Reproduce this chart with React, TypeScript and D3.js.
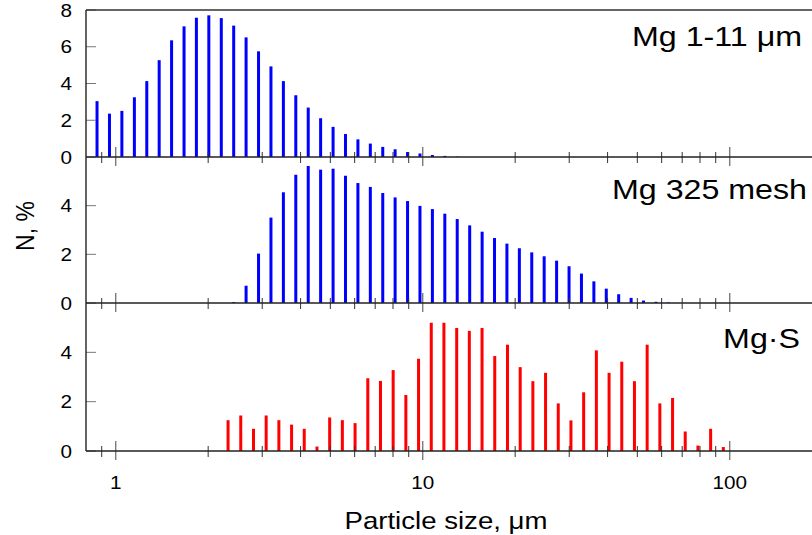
import React from "react";
import * as d3 from "d3";

const sizesTop = [0.869,0.954,1.047,1.150,1.262,1.385,1.520,1.669,1.831,2.010,2.207,2.422,2.658,2.918,3.203,3.516,3.859,4.236,4.649,5.104,5.602,6.149,6.749,7.408,8.128,8.923,9.793,10.75,11.80,12.95];
const valuesTop = [3.04,2.36,2.51,3.25,4.13,5.27,6.35,7.11,7.58,7.71,7.56,7.15,6.51,5.75,4.93,4.13,3.36,2.69,2.11,1.64,1.25,0.96,0.73,0.55,0.42,0.27,0.19,0.11,0.06,0.02];

const sizesMid = [2.422,2.658,2.918,3.203,3.516,3.859,4.236,4.649,5.104,5.602,6.149,6.749,7.408,8.128,8.923,9.793,10.75,11.80,12.95,14.22,15.61,17.13,18.80,20.64,22.65,24.86,27.29,29.96,32.88,36.09,39.61,43.47,47.72,52.37,57.49,63.10];
const valuesMid = [0.04,0.71,2.03,3.51,4.55,5.27,5.63,5.48,5.52,5.23,4.93,4.77,4.52,4.34,4.19,3.99,3.86,3.67,3.45,3.19,2.93,2.67,2.44,2.25,2.08,1.92,1.74,1.51,1.21,0.89,0.59,0.36,0.21,0.10,0.05,0.02];

const sizesS = [2.322,2.554,2.810,3.090,3.399,3.739,4.111,4.523,4.975,5.472,6.019,6.622,7.283,8.010,8.810,9.690,10.66,11.72,12.90,14.18,15.60,17.16,18.88,20.77,22.84,25.12,27.63,30.39,33.43,36.77,40.45,44.49,48.93,53.82,59.20,65.12,71.61,78.77,86.64,95.30];
const valuesS = [1.25,1.44,0.90,1.44,1.25,1.07,0.90,0.18,1.36,1.25,1.13,2.95,2.84,3.28,2.27,3.74,5.20,5.20,4.99,4.87,4.99,3.85,4.31,3.40,2.83,3.17,1.93,1.24,2.38,4.08,3.17,3.62,2.83,4.31,1.93,2.15,0.79,0.22,0.90,0.16];

const xMajorTicks = [1, 10, 100];
const xTickLabels = ["1", "10", "100"];
const xMinorTicks = [0.9, 2, 3, 4, 5, 6, 7, 8, 9, 20, 30, 40, 50, 60, 70, 80, 90];
const yTicksTop = [0, 2, 4, 6, 8];
const yTicksOther = [0, 2, 4];
const panelLabels = ["Mg 1-11 \u03bcm", "Mg 325 mesh", "Mg\u00b7S"];

const W = 812, H = 535;
const FONT = "'Liberation Sans', Arial, Helvetica, sans-serif";
const SX = 1.15;
const LEFT = 86;

export default function App() {
  const x = d3.scaleLog().domain([0.8, 200]).range([LEFT, LEFT + 307 * Math.log10(250)]);
  const panels = [
    { sizes: sizesTop, values: valuesTop, y: d3.scaleLinear().domain([0, 8]).range([157, 10]), ticks: yTicksTop, color: "#0000ff", label: panelLabels[0], ly: 46, lx: 802 },
    { sizes: sizesMid, values: valuesMid, y: d3.scaleLinear().domain([0, 6]).range([303, 157]), ticks: yTicksOther, color: "#0000ff", label: panelLabels[1], ly: 199, lx: 807 },
    { sizes: sizesS, values: valuesS, y: d3.scaleLinear().domain([0, 6]).range([451, 303]), ticks: yTicksOther, color: "#ff0000", label: panelLabels[2], ly: 348, lx: 800 },
  ];
  const barW = 3;
  const txt = (xx: number, yy: number, s: string, size: number, anchor: string, key?: string | number) => (
    <text key={key} transform={`translate(${xx},${yy}) scale(${SX},1)`} fontSize={size} textAnchor={anchor} fontFamily={FONT} fill="#000">{s}</text>
  );
  return (
    <svg width={W} height={H} style={{ position: "absolute", left: 0, top: 0, background: "#fff" }}>
      <rect x={0} y={0} width={W} height={H} fill="#fff" />
      {panels.map((p, pi) => {
        const y0 = p.y(0);
        return (
          <g key={pi}>
            {p.sizes.map((s, i) => (
              <rect key={i} x={x(s) - barW / 2} width={barW} y={p.y(p.values[i])} height={y0 - p.y(p.values[i])} fill={p.color} />
            ))}
            {p.ticks.map((t) => (
              <line key={"yt" + t} x1={LEFT} x2={LEFT + 10} y1={p.y(t)} y2={p.y(t)} stroke="#777" strokeWidth={1} />
            ))}
            {p.ticks.map((t) => txt(72, p.y(t) + 6.5, String(t), 18, "end", "yl" + t))}
            {xMinorTicks.map((t) => (
              <line key={"xm" + t} x1={x(t)} x2={x(t)} y1={y0 - 5} y2={y0 + 6} stroke="#333" strokeWidth={1} />
            ))}
            {xMajorTicks.map((t) => (
              <line key={"xM" + t} x1={x(t)} x2={x(t)} y1={y0 - 10} y2={y0 + 9} stroke="#666" strokeWidth={1.2} />
            ))}
            <line x1={LEFT} x2={W} y1={y0} y2={y0} stroke="#222" strokeWidth={1.6} />
            {txt(p.lx, p.ly, p.label, 28, "end")}
          </g>
        );
      })}
      <line x1={LEFT} x2={W} y1={10} y2={10} stroke="#333" strokeWidth={1.4} />
      <line x1={LEFT} x2={LEFT} y1={10} y2={451} stroke="#222" strokeWidth={1.4} />
      {xMajorTicks.map((t, i) => txt(x(t), 489, xTickLabels[i], 18, "middle", "xl" + t))}
      {txt(446, 529, "Particle size, \u03bcm", 24, "middle")}
      <text transform={`translate(34,226) rotate(-90) scale(1,${SX})`} fontSize={23} textAnchor="middle" fontFamily={FONT}>N, %</text>
    </svg>
  );
}
